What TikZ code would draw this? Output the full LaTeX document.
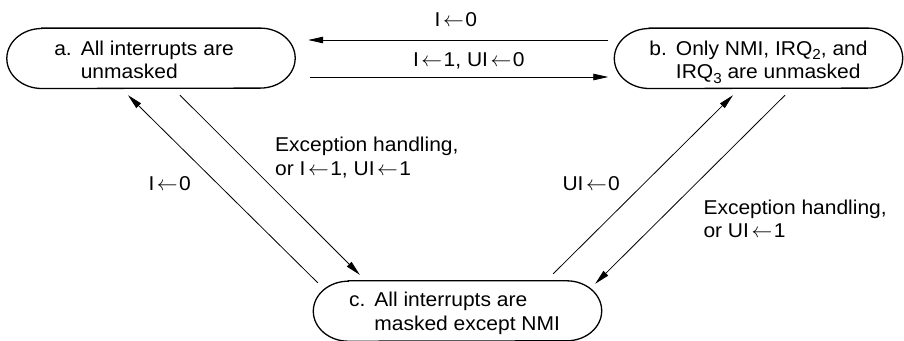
\documentclass[tikz,border=0pt]{standalone}
\usepackage{fontspec}
\setmainfont{Liberation Sans}[FakeStretch=1.05]
\usetikzlibrary{arrows.meta}
\newcommand\myarr{\hspace{2.5pt}$\leftarrow$\hspace{1.5pt}}
\newcommand\mysub[1]{\raisebox{-4.5pt}{\fontsize{14.5}{14.5}\selectfont #1}}
\newcommand\stadiumoutline[1]{%
  \draw[nodeline] ([xshift=35pt]#1.north west) -- ([xshift=-35pt]#1.north east)
    arc[start angle=90,end angle=-90,x radius=35pt,y radius=30pt]
    -- ([xshift=35pt]#1.south west)
    arc[start angle=270,end angle=90,x radius=35pt,y radius=30pt] -- cycle;}
\begin{document}
\begin{tikzpicture}[x=1pt,y=-1pt,
  every node/.style={font=\fontsize{20}{23.5}\selectfont},
  stadium/.style={draw=none,minimum width=288pt,minimum height=60pt,inner sep=0pt},
  nodeline/.style={line width=1.3pt},
  conn/.style={line width=0.8pt,-{Triangle[length=15pt,width=6.5pt]}},
  lbl/.style={inner sep=0pt}]
\useasboundingbox (0,0) rectangle (904,340);
\node[stadium] (a) at (151,58.3)
  {\raisebox{-4pt}[\height][\depth]{\begin{tabular}{@{}l@{\hspace{9pt}}l@{\hspace{14pt}}}a. & All interrupts are\\ & unmasked\end{tabular}}};
\node[stadium] (b) at (758.5,58.3)
  {\raisebox{-4pt}[\height][\depth]{\begin{tabular}{@{}l@{\hspace{9pt}}l@{}}b. & Only NMI, IRQ\mysub{2}, and\\ & IRQ\mysub{3} are unmasked\end{tabular}}};
\node[stadium] (c) at (457.5,311)
  {\raisebox{-3pt}[\height][\depth]{\begin{tabular}{@{}l@{\hspace{9pt}}l@{\hspace{6pt}}}c. & All interrupts are\\ & masked except NMI\end{tabular}}};
\stadiumoutline{a}
\stadiumoutline{b}
\stadiumoutline{c}
% horizontal connectors
\draw[conn] ([xshift=-6pt,yshift=18.3pt]b.west) -- ([xshift=13pt,yshift=18.3pt]a.east);
\draw[conn] ([xshift=15pt,yshift=-18.7pt]a.east) -- ([xshift=-6pt,yshift=-18.7pt]b.west);
% diagonal connectors
\draw[conn] ([xshift=4.5pt,yshift=-2pt]c.north west) -- ([xshift=-23pt,yshift=-6.7pt]a.south);
\draw[conn] ([xshift=29pt,yshift=-6.7pt]a.south) -- ([xshift=46.5pt,yshift=6pt]c.north west);
\draw[conn] ([xshift=-48.5pt,yshift=7pt]c.north east) -- ([xshift=-25.5pt,yshift=-6.7pt]b.south);
\draw[conn] ([xshift=26.5pt,yshift=-6.7pt]b.south) -- ([xshift=-6.5pt,yshift=-3pt]c.north east);
% labels
\node[lbl,anchor=base] (t1) at (455.8,26.7) {I\myarr0};
\node[lbl,anchor=base] (t2) at (468.8,66.7) {I\myarr1, UI\myarr0};
\node[lbl,anchor=base west] (t3) at (275,151.7)
  {\begin{tabular}[t]{@{}l@{}}Exception handling,\\or I\myarr1, UI\myarr1\end{tabular}};
\node[lbl,anchor=base west] (t4) at (148.3,190) {I\myarr0};
\node[lbl,anchor=base west] (t5) at (562.3,190) {UI\myarr0};
\node[lbl,anchor=base west] (t6) at (703.3,214.3)
  {\begin{tabular}[t]{@{}l@{}}Exception handling,\\or UI\myarr1\end{tabular}};
\end{tikzpicture}
\end{document}
